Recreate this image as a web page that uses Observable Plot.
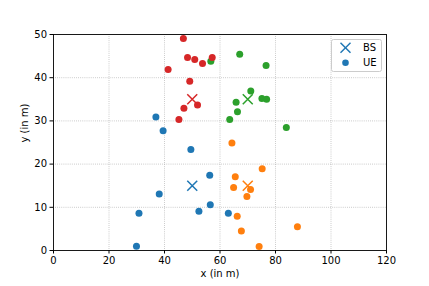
<!DOCTYPE html>
<html>
<head>
<meta charset="utf-8">
<script src="https://cdn.jsdelivr.net/npm/d3@7"></script>
<script src="https://cdn.jsdelivr.net/npm/@observablehq/plot@0.6"></script>
<style>
  html, body { margin: 0; padding: 0; background: #fff; }
  #wrap { position: relative; width: 429px; height: 286px; font-family: "DejaVu Sans", sans-serif; }
  #legend { position: absolute; left: 331px; top: 39px; }
</style>
</head>
<body>
<div id="wrap"></div>
<script>
// Base stations (one per cluster)
const bsX = [50, 70, 70, 50];
const bsY = [15, 15, 35, 35];
// User equipment, grouped by cluster
const ueX0 = [29.9, 30.8, 38.1, 36.9, 39.5, 49.5, 56.3, 52.4, 56.5, 63.0];
const ueY0 = [1.0, 8.6, 13.1, 30.9, 27.7, 23.4, 17.4, 9.1, 10.6, 8.6];
const ueX1 = [64.3, 75.2, 65.5, 64.9, 71.0, 69.7, 66.2, 67.7, 87.9, 74.1];
const ueY1 = [24.9, 18.9, 17.1, 14.6, 14.1, 12.5, 7.9, 4.5, 5.5, 0.9];
const ueX2 = [67.1, 76.6, 56.7, 71.1, 75.1, 76.8, 65.8, 66.3, 63.5, 83.9];
const ueY2 = [45.4, 42.8, 43.8, 36.9, 35.2, 35.0, 34.3, 32.1, 30.3, 28.5];
const ueX3 = [46.8, 48.3, 50.9, 53.7, 57.2, 41.3, 49.1, 51.9, 47.0, 45.2];
const ueY3 = [49.1, 44.7, 44.2, 43.3, 44.7, 41.9, 39.2, 33.7, 32.9, 30.3];
const clusters = [0, 1, 2, 3];
const xTicks = [0, 20, 40, 60, 80, 100, 120];
const yTicks = [0, 10, 20, 30, 40, 50];
const legendLabels = ["BS", "UE"];

const palette = ["#1f77b4", "#ff7f0e", "#2ca02c", "#d62728"];

const ueXs = [ueX0, ueX1, ueX2, ueX3];
const ueYs = [ueY0, ueY1, ueY2, ueY3];
const ue = clusters.flatMap(c => ueXs[c].map((x, i) => ({x, y: ueYs[c][i], c})));
const bs = clusters.map(c => ({x: bsX[c], y: bsY[c], c}));

const gridStyle = {stroke: "#b0b0b0", strokeOpacity: 1, strokeWidth: 0.8, strokeDasharray: "0.8,1.3"};

const chart = Plot.plot({
  width: 429,
  height: 286,
  marginLeft: 53,
  marginRight: 43,
  marginTop: 34,
  marginBottom: 36,
  x: {domain: [0, 120]},
  y: {domain: [0, 50]},
  color: {domain: clusters, range: palette},
  style: {fontFamily: "DejaVu Sans", fontSize: "10px", background: "white", color: "black", overflow: "visible"},
  marks: [
    Plot.gridX(xTicks.slice(1, -1), gridStyle),
    Plot.gridY(yTicks.slice(1, -1), gridStyle),
    Plot.dot(ue, {x: "x", y: "y", fill: "c", r: 3.5, stroke: "none"}),
    Plot.dot(bs, {x: "x", y: "y", stroke: "c", symbol: "times", r: 4.6, strokeWidth: 1.5}),
    Plot.frame({stroke: "black", strokeWidth: 0.9}),
    Plot.axisX(xTicks, {tickSize: 3.5, tickPadding: 3, label: null, stroke: "black", fill: "black", fontSize: 10}),
    Plot.axisY(yTicks, {tickSize: 3.5, tickPadding: 3, label: null, stroke: "black", fill: "black", fontSize: 10}),
    Plot.text(["x (in m)"], {frameAnchor: "bottom", dy: 26, fill: "black", fontSize: 10}),
    Plot.text(["y (in m)"], {frameAnchor: "left", dx: -29, rotate: -90, fill: "black", fontSize: 10})
  ]
});

const wrap = document.getElementById("wrap");
wrap.appendChild(chart);

// Legend (matplotlib-style box)
const ns = "http://www.w3.org/2000/svg";
const lg = document.createElementNS(ns, "svg");
lg.setAttribute("id", "legend");
lg.setAttribute("width", 51);
lg.setAttribute("height", 34);
lg.innerHTML = `
  <rect x="0.5" y="0.5" width="50" height="32" rx="2" ry="2" fill="white" fill-opacity="0.8" stroke="#cccccc" stroke-width="1"/>
  <g stroke="${palette[0]}" stroke-width="1.5" fill="none">
    <line x1="9.5" y1="3.7" x2="19.5" y2="13.7"/>
    <line x1="9.5" y1="13.7" x2="19.5" y2="3.7"/>
  </g>
  <circle cx="14.5" cy="23.7" r="3.3" fill="${palette[0]}"/>
  <text x="32" y="8.7" dy="0.35em" font-family="DejaVu Sans" font-size="10" fill="black">${legendLabels[0]}</text>
  <text x="32" y="23.7" dy="0.35em" font-family="DejaVu Sans" font-size="10" fill="black">${legendLabels[1]}</text>
`;
wrap.appendChild(lg);
</script>
</body>
</html>
